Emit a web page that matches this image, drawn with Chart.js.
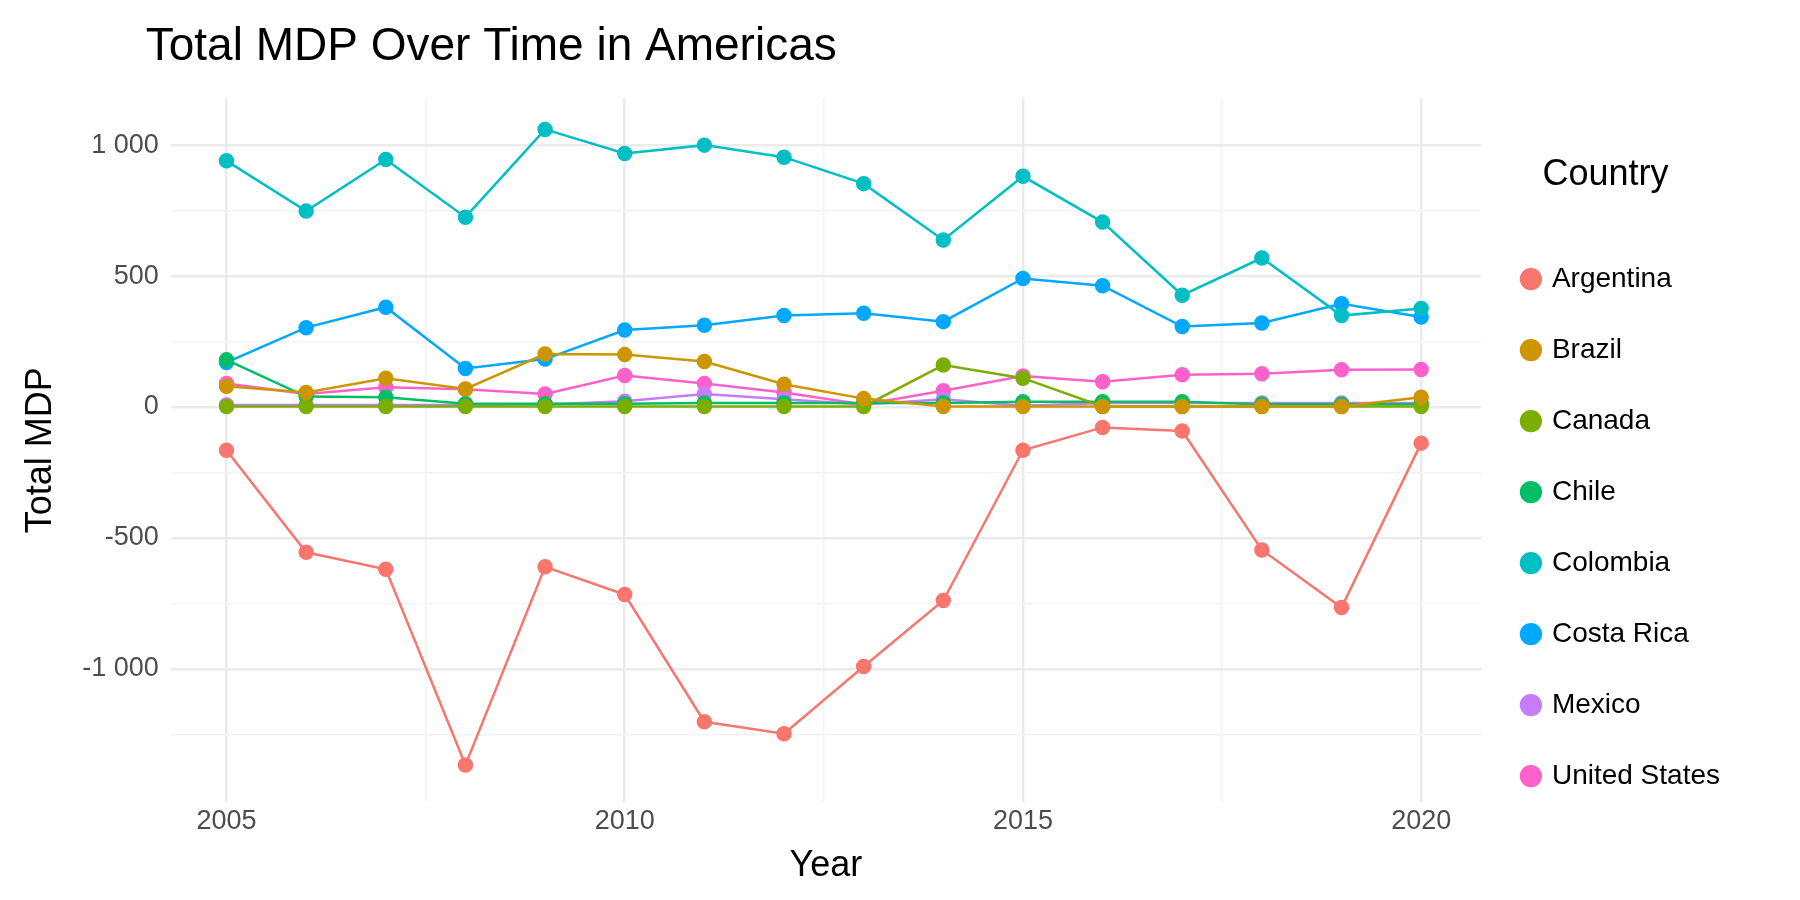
<!DOCTYPE html>
<html><head><meta charset="utf-8">
<script src="https://cdn.jsdelivr.net/npm/chart.js@4"></script>
<style>body{margin:0;background:#fff}#w{width:1800px;height:900px}</style>
</head><body><div id="w"><canvas id="c"></canvas></div>
<script>
const years=[2005,2006,2007,2008,2009,2010,2011,2012,2013,2014,2015,2016,2017,2018,2019,2020];
const argentina=[-165,-555,-620,-1367,-610,-716,-1202,-1248,-991,-739,-165,-78,-92,-546,-766,-138];
const brazil=[79,55,110,69,202,200,174,87,32,2,2,2,2,2,2,37];
const canada=[2,2,2,2,2,2,2,2,2,160,110,2,2,2,2,2];
const chile=[180,40,37,12,12,12,15,15,15,15,20,20,20,10,10,10];
const colombia=[940,748,945,725,1060,968,1000,954,853,638,881,706,427,569,349,376];
const costaRica=[170,303,381,147,183,294,312,349,358,326,491,463,307,321,394,344];
const mexico=[8,8,8,8,10,22,50,30,10,30,5,15,15,15,15,15];
const unitedStates=[90,50,75,68,50,120,90,55,10,62,118,96,123,127,142,143];
const names=["Argentina","Brazil","Canada","Chile","Colombia","Costa Rica","Mexico","United States"];
const series=[argentina,brazil,canada,chile,colombia,costaRica,mexico,unitedStates];
const colors=["#F8766D","#CD9600","#7CAE00","#00BE67","#00BFC4","#00A9FF","#C77CFF","#FF61CC"];
const xTicks=[2005,2007.5,2010,2012.5,2015,2017.5,2020];
const yTicks=[-1250,-1000,-750,-500,-250,0,250,500,750,1000];
const fmt=v=>Math.abs(v)>=1000?(v<0?"-":"")+Math.floor(Math.abs(v)/1000)+" "+String(Math.abs(v)%1000).padStart(3,"0"):String(v);
const titlePlugin={id:'tp',afterDraw(ch){const c=ch.ctx;c.save();c.font='46px "Liberation Sans"';c.fillStyle='#000';c.textBaseline='alphabetic';c.fillText('Total MDP Over Time in Americas',ch.chartArea.left-25,60);c.restore();}};
new Chart(document.getElementById('c'),{type:'line',plugins:[titlePlugin],
data:{datasets:series.map((s,i)=>({label:names[i],data:years.map((y,j)=>({x:y,y:s[j]})),borderColor:colors[i],backgroundColor:colors[i],borderWidth:2.5,pointRadius:6.5,pointHoverRadius:6.5,tension:0}))},
options:{responsive:true,maintainAspectRatio:false,animation:false,
layout:{padding:{left:15,right:70,top:98,bottom:8}},
plugins:{title:{display:false},
legend:{position:'right',align:'center',title:{display:true,text:'Country',color:'#000',font:{family:'Liberation Sans',size:36},padding:{top:0,bottom:22}},
labels:{usePointStyle:true,pointStyle:'circle',boxWidth:14,boxHeight:14,padding:43,color:'#000',font:{family:'Liberation Sans',size:28}}},tooltip:{enabled:false}},
scales:{x:{type:'linear',min:2004.3,max:2020.75,afterBuildTicks:a=>{a.ticks=xTicks.map(v=>({value:v}));},
ticks:{color:'#4d4d4d',font:{family:'Liberation Sans',size:27},autoSkip:false,maxRotation:0,callback:v=>v%5===0?String(v):''},
grid:{color:c=>c.tick&&c.tick.value%5===0?'#ebebeb':'#f3f3f3',lineWidth:c=>c.tick&&c.tick.value%5===0?2.5:1.5,drawTicks:false},border:{display:false},
title:{display:true,text:'Year',color:'#000',font:{family:'Liberation Sans',size:36},padding:{top:4}}},
y:{min:-1510,max:1180,afterBuildTicks:a=>{a.ticks=yTicks.map(v=>({value:v}));},
ticks:{color:'#4d4d4d',font:{family:'Liberation Sans',size:27},padding:12,autoSkip:false,callback:v=>v%500===0?fmt(v):''},
grid:{color:c=>c.tick&&c.tick.value%500===0?'#ebebeb':'#f3f3f3',lineWidth:c=>c.tick&&c.tick.value%500===0?2.5:1.5,drawTicks:false},border:{display:false},
title:{display:true,text:'Total MDP',color:'#000',font:{family:'Liberation Sans',size:36},padding:{bottom:8}}}}}});
</script></body></html>
